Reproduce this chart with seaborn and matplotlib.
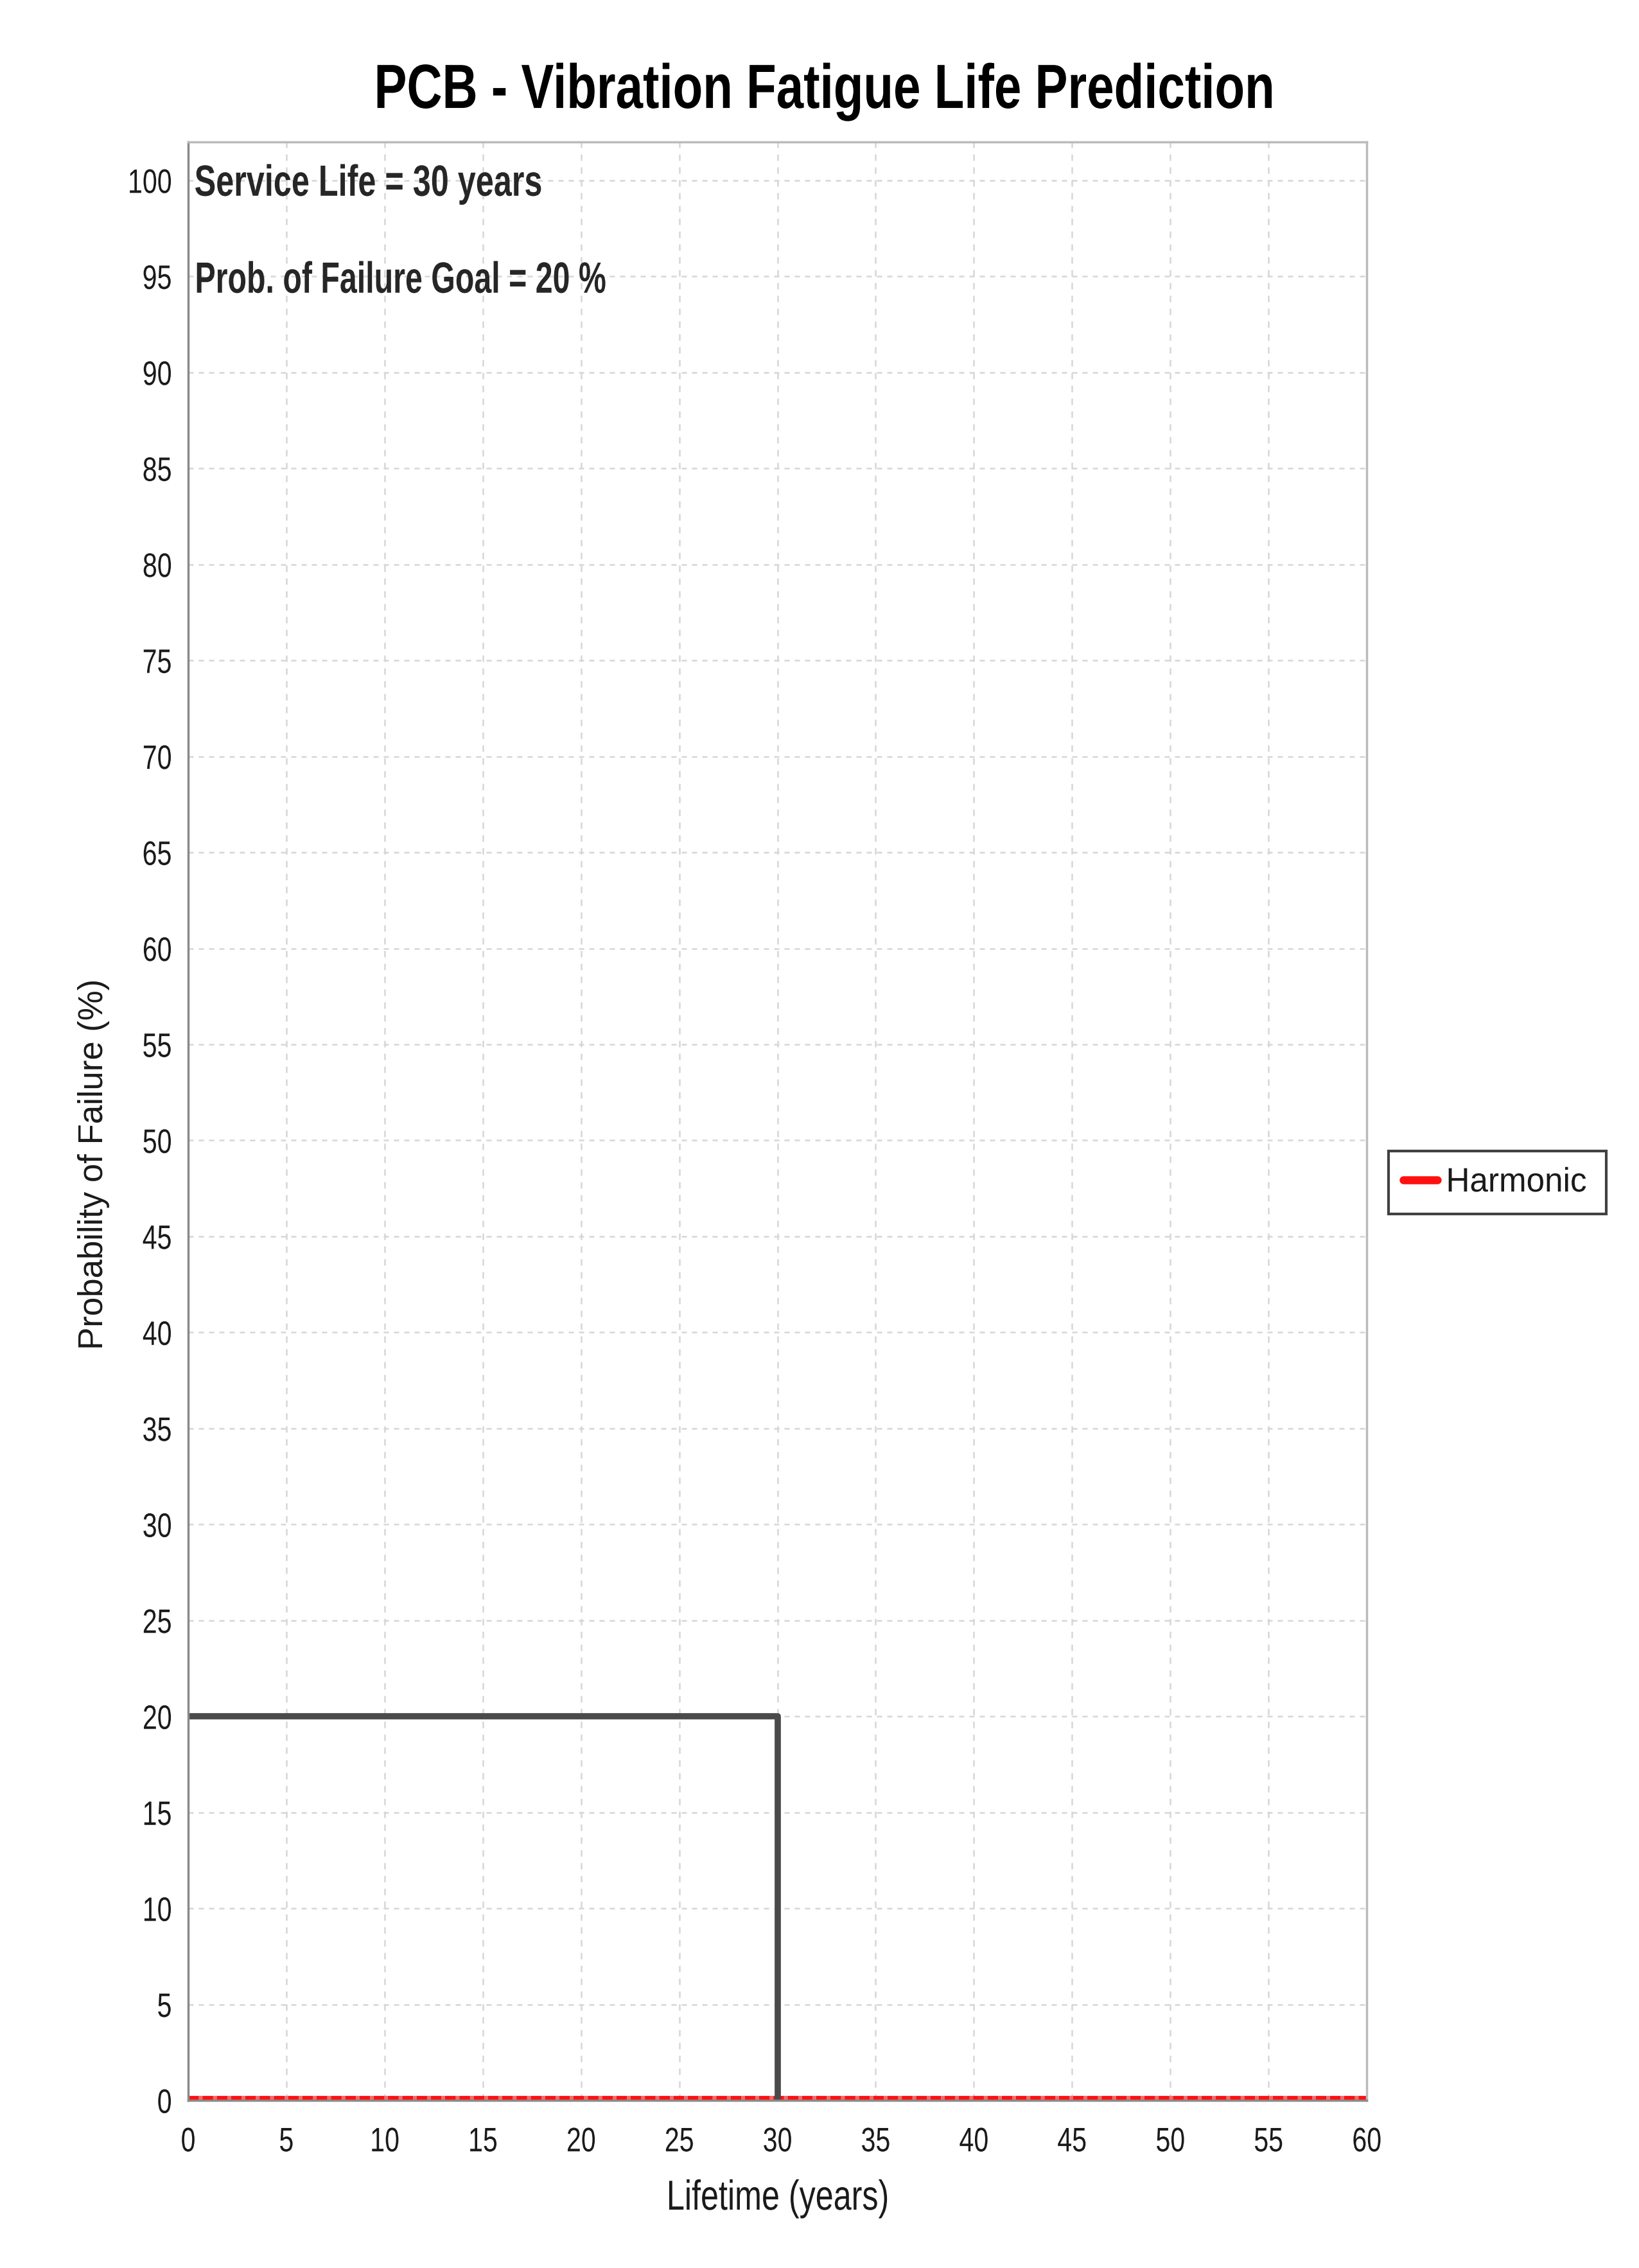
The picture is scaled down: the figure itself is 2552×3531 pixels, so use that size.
import matplotlib
matplotlib.use('Agg')
import matplotlib.pyplot as plt
import seaborn as sns
from matplotlib.patheffects import AbstractPathEffect
from matplotlib.transforms import Affine2D

SERVICE_LIFE = 30
FAILURE_GOAL = 20

# goal box: service life vs failure goal
goal_years = [0, 30, 30]
goal_prob = [20, 20, 0]

# harmonic prediction (flat at zero over the whole range)
harmonic_years = [0, 10, 20, 30, 40, 50, 60]
harmonic_prob = [0, 0, 0, 0, 0, 0, 0]

x_ticks = list(range(0, 61, 5))
y_ticks = list(range(0, 101, 5))


class Squeeze(AbstractPathEffect):
    """Narrow the glyphs horizontally (no condensed font installed)."""

    def __init__(self, sx, anchor='left'):
        super().__init__()
        self.sx = sx
        self.anchor = anchor

    def draw_path(self, renderer, gc, tpath, affine, rgbFace=None):
        ext = tpath.get_extents()
        x0 = {'left': ext.x0, 'center': (ext.x0 + ext.x1) / 2, 'right': ext.x1}[self.anchor]
        squeeze = Affine2D().translate(-x0, 0).scale(self.sx, 1).translate(x0, 0)
        renderer.draw_path(gc, tpath, squeeze + affine, rgbFace)


sns.set_style('white')
plt.rcParams['font.family'] = ['Liberation Sans', 'DejaVu Sans']

fig = plt.figure(figsize=(25.52, 35.31), dpi=100)
ax = fig.add_axes([0.1148, 0.0739, 0.7191, 0.8635])

sns.lineplot(x=harmonic_years, y=harmonic_prob, color='#ff1010', lw=10,
             linestyle=(0, (1.2, 0.4)), gapcolor='#f26a6a',
             label='Harmonic', ax=ax)
sns.lineplot(x=goal_years, y=goal_prob, estimator=None, sort=False,
             color='#4a4a4a', lw=7, legend=False, ax=ax)

ax.set_xlim(0, 60)
ax.set_ylim(0, 102)
ax.set_xticks(x_ticks)
ax.set_yticks(y_ticks)
ax.xaxis.grid(True, color='#d6d6d6', linestyle=(0, (4.0, 4.0)), linewidth=1.8)
ax.yaxis.grid(True, color='#d6d6d6', linestyle=(0, (3.2, 3.2)), linewidth=1.8)
ax.set_axisbelow(True)

for side in ['top', 'right']:
    ax.spines[side].set_color('#bbbbbb')
    ax.spines[side].set_linewidth(2.5)
for side in ['left', 'bottom']:
    ax.spines[side].set_color('#8a8a8a')
    ax.spines[side].set_linewidth(2.5)

ax.tick_params(axis='both', length=7, width=1.8, color='#8a8a8a',
               labelsize=38, labelcolor='#1a1a1a')
ax.tick_params(axis='x', pad=22)
ax.tick_params(axis='y', pad=11)
plt.setp(ax.get_xticklabels(), path_effects=[Squeeze(0.78, 'center')])
plt.setp(ax.get_yticklabels(), path_effects=[Squeeze(0.78, 'right')])

ax.set_xlabel('Lifetime (years)', fontsize=47, color='#1a1a1a', va='baseline',
              path_effects=[Squeeze(0.77, 'center')])
ax.xaxis.set_label_coords(0.5, -0.0558)
ax.set_ylabel('Probability of Failure (%)', fontsize=38, color='#1a1a1a', va='baseline')
ax.yaxis.set_label_coords(-0.0725, 0.478)

fig.suptitle('PCB - Vibration Fatigue Life Prediction', x=0.503, y=0.9524,
             va='baseline', fontsize=70, fontweight='bold', color='black',
             path_effects=[Squeeze(0.785, 'center')])

ax.text(0.3, 99.2, f'Service Life = {SERVICE_LIFE} years', fontsize=49,
        fontweight='bold', va='baseline', ha='left',
        path_effects=[Squeeze(0.74, 'left')])
ax.text(0.3, 94.15, f'Prob. of Failure Goal = {FAILURE_GOAL} %', fontsize=49,
        fontweight='bold', va='baseline', ha='left',
        path_effects=[Squeeze(0.71, 'left')])

handles, labels = ax.get_legend_handles_labels()
ax.get_legend().remove()
leg = fig.legend(handles, labels, loc='center', bbox_to_anchor=(0.9135, 0.4786),
                 fontsize=38, frameon=True, fancybox=False, handlelength=1.0,
                 handletextpad=0.25, borderpad=0.45, borderaxespad=0)
leg.get_frame().set_edgecolor('#111111')
leg.get_frame().set_linewidth(3)
for line in leg.get_lines():
    line.set_linewidth(9)
    line.set_linestyle('-')
for txt in leg.get_texts():
    txt.set_color('#1a1a1a')
    txt.set_path_effects([Squeeze(0.97, 'left')])

fig.savefig('out.png', dpi=100)
plt.close(fig)
